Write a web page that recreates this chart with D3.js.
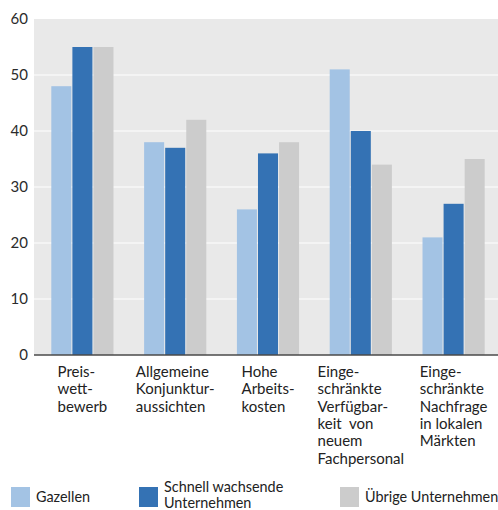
<!DOCTYPE html>
<html>
<head>
<meta charset="utf-8">
<script src="https://cdn.jsdelivr.net/npm/d3@7"></script>
<style>
  html, body { margin: 0; padding: 0; background: #fff; }
  svg { display: block; font-family: Lato, "Open Sans", sans-serif; }
</style>
</head>
<body>
<svg id="chart" width="498" height="510"></svg>
<script>
// Categories (each label split into its printed lines)
const categories = [
  ["Preis-", "wett-", "bewerb"],
  ["Allgemeine", "Konjunktur-", "aussichten"],
  ["Hohe", "Arbeits-", "kosten"],
  ["Einge-", "schränkte", "Verfügbar-", "keit  von", "neuem", "Fachpersonal"],
  ["Einge-", "schränkte", "Nachfrage", "in lokalen", "Märkten"]
];

// Series names and values (percent)
const seriesNames = ["Gazellen", "Schnell wachsende Unternehmen", "Übrige Unternehmen"];
const legendLines = [["Gazellen"], ["Schnell wachsende", "Unternehmen"], ["Übrige Unternehmen"]];
const gazellen = [48, 38, 26, 51, 21];
const schnell = [55, 37, 36, 40, 27];
const uebrige = [55, 42, 38, 34, 35];
const seriesValues = [gazellen, schnell, uebrige];

const yTicks = [0, 10, 20, 30, 40, 50, 60];
const colors = ["#a3c3e4", "#3472b4", "#cccccc"];

const svg = d3.select("#chart");
const W = 498;
const plot = { left: 34, top: 19, right: 502, bottom: 355 };

const y = d3.scaleLinear().domain([0, 60]).range([plot.bottom, plot.top]);
const x0 = d3.scaleBand().domain(d3.range(categories.length))
  .range([36, 500]).paddingInner(0.33).paddingOuter(0.165);
const x1 = d3.scaleBand().domain(d3.range(seriesNames.length))
  .range([0, x0.bandwidth()]).paddingInner(0.05);

// plot background
svg.append("rect")
  .attr("x", plot.left).attr("y", plot.top)
  .attr("width", W - plot.left).attr("height", plot.bottom - plot.top)
  .attr("fill", "#e9e9e9");

// horizontal grid lines
svg.append("g").selectAll("line")
  .data(yTicks.filter(d => d > 0 && d < 60))
  .join("line")
  .attr("x1", plot.left).attr("x2", W)
  .attr("y1", d => y(d)).attr("y2", d => y(d))
  .attr("stroke", "#ffffff").attr("stroke-width", 1.2);

// y axis labels
const yAxis = d3.axisLeft(y).tickValues(yTicks).tickSize(0).tickPadding(6)
  .tickFormat(d3.format("d"));
const gy = svg.append("g").attr("transform", `translate(${plot.left},0)`).call(yAxis);
gy.select(".domain").remove();
gy.selectAll("text").attr("font-size", 15).attr("fill", "#2b2b2b")
  .attr("font-family", "Lato, 'Open Sans', sans-serif");

// bars
const groups = svg.append("g").selectAll("g")
  .data(categories.map((c, i) => i))
  .join("g")
  .attr("transform", i => `translate(${x0(i)},0)`);

groups.selectAll("rect")
  .data(i => seriesValues.map((vals, s) => ({ s, v: vals[i] })))
  .join("rect")
  .attr("x", d => x1(d.s))
  .attr("width", x1.bandwidth())
  .attr("y", d => y(d.v))
  .attr("height", d => y(0) - y(d.v))
  .attr("fill", d => colors[d.s]);

// baseline
svg.append("line")
  .attr("x1", plot.left).attr("x2", W)
  .attr("y1", y(0)).attr("y2", y(0))
  .attr("stroke", "#4a4a4a").attr("stroke-width", 1.6);

// category labels: lines left-aligned, block centred under the group
const lineH = 17.3;
categories.forEach((lines, i) => {
  const g = svg.append("g");
  const t = g.append("text")
    .attr("font-size", 15).attr("fill", "#222")
    .attr("xml:space", "preserve");
  lines.forEach((ln, k) => {
    t.append("tspan").attr("x", 0).attr("y", 377 + k * lineH).text(ln);
  });
  let maxW = 0;
  t.selectAll("tspan").each(function () {
    maxW = Math.max(maxW, this.getComputedTextLength());
  });
  const cx = x0(i) + x0.bandwidth() / 2;
  g.attr("transform", `translate(${cx - maxW / 2},0)`);
});

// legend
const legendX = [11, 139, 340];
const leg = svg.append("g");
seriesNames.forEach((name, s) => {
  leg.append("rect")
    .attr("x", legendX[s]).attr("y", 487)
    .attr("width", 19).attr("height", 20)
    .attr("fill", colors[s]);
  const lines = legendLines[s];
  const t = leg.append("text").attr("font-size", 14.4).attr("fill", "#222");
  const startY = lines.length === 1 ? 502 : 491.5;
  lines.forEach((ln, k) => {
    t.append("tspan").attr("x", legendX[s] + 25).attr("y", startY + k * 16.5).text(ln);
  });
});
</script>
</body>
</html>
